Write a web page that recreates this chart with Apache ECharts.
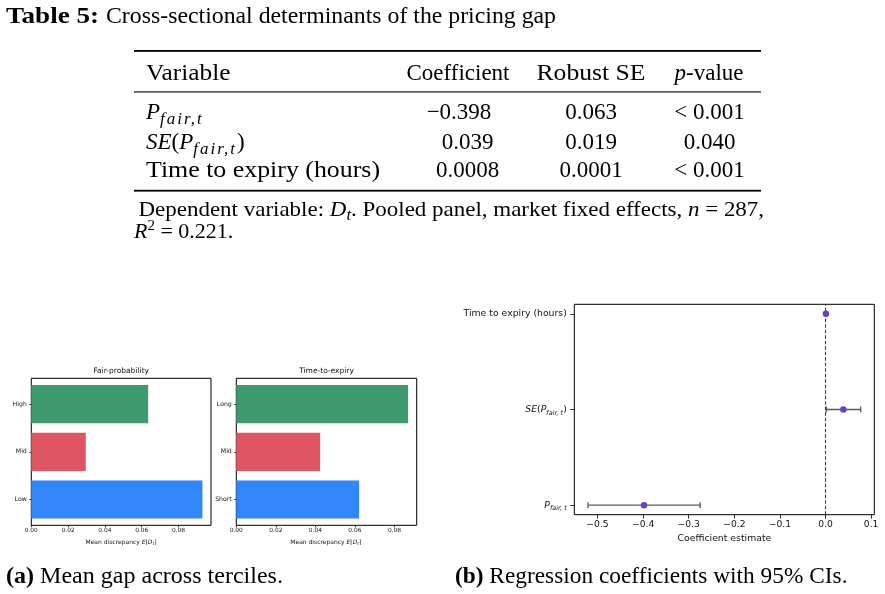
<!DOCTYPE html>
<html>
<head>
<meta charset="utf-8">
<script src="https://cdn.jsdelivr.net/npm/echarts@6/dist/echarts.min.js"></script>
<style>
html, body { margin: 0; padding: 0; background: #fff; }
#wrap { position: relative; width: 885px; height: 594px; overflow: hidden; }
#main { position: absolute; left: 0; top: 0; width: 885px; height: 594px; }
#page { position: absolute; left: 0; top: 0; pointer-events: none; }
</style>
</head>
<body>
<div id="wrap">
  <div id="main"></div>
  <svg id="page" width="885" height="594"></svg>
</div>
<script>
// panel (a): mean gap by tercile
var fairProbCats = ['Low', 'Mid', 'High'];
var fairProbGap = [0.0930, 0.0296, 0.0635];
var expiryCats = ['Short', 'Mid', 'Long'];
var expiryGap = [0.0621, 0.0424, 0.0869];
var gapTicks = [0, 0.02, 0.04, 0.06, 0.08];
var tercileColors = ['#3385fa', '#e05563', '#3c9a6e'];

// panel (b): coefficients with 95% CI
var coefNames = ['P_fair,t', 'SE(P_fair,t)', 'Time to expiry (hours)'];
var coefEst = [-0.398, 0.039, 0.0008];
var ciLow = [-0.521, 0.002, 0.0006];
var ciHigh = [-0.275, 0.077, 0.0010];
var coefTicks = [-0.5, -0.4, -0.3, -0.2, -0.1, 0, 0.1];

// table 5 cells
var tableCoef = ['\u22120.398', '0.039', '0.0008'];
var tableSE = ['0.063', '0.019', '0.0001'];
var tableP = ['&lt; 0.001', '0.040', '&lt; 0.001'];

var FONT = 'DejaVu Sans';
var INK = '#111';

// ---------- table and captions (svg text) ----------
var SUB = 'font-style="italic" font-size="17" letter-spacing="2"';
var varCells = [
  '<tspan font-style="italic">P</tspan><tspan ' + SUB + ' dy="5">fair,t</tspan>',
  '<tspan font-style="italic">SE</tspan>(<tspan font-style="italic">P</tspan><tspan ' + SUB + ' dy="5">fair,t</tspan><tspan dy="-5">)</tspan>',
  'Time to expiry (hours)'
];
var rowY = [119, 148.5, 177];
var s = [];
s.push('<g font-family="Liberation Serif" font-size="23" fill="#000">');
s.push('<text x="6" y="22.5"><tspan font-weight="bold" textLength="93" lengthAdjust="spacingAndGlyphs">Table 5:</tspan></text>');
s.push('<text x="106" y="22.5" textLength="450" lengthAdjust="spacingAndGlyphs">Cross-sectional determinants of the pricing gap</text>');
// rules
s.push('<rect x="134" y="50" width="627" height="1.8"/>');
s.push('<rect x="134" y="91.4" width="627" height="1.1"/>');
s.push('<rect x="134" y="189.8" width="627" height="1.8"/>');
// header
s.push('<text x="146" y="80" textLength="84.5" lengthAdjust="spacingAndGlyphs">Variable</text>');
s.push('<text x="458" y="80" text-anchor="middle">Coefficient</text>');
s.push('<text x="591" y="80" text-anchor="middle" textLength="109" lengthAdjust="spacingAndGlyphs">Robust SE</text>');
s.push('<text x="709" y="80" text-anchor="middle"><tspan font-style="italic">p</tspan>-value</text>');
for (var r = 0; r < 3; r++) {
  var extra = r === 2 ? ' textLength="234" lengthAdjust="spacingAndGlyphs"' : '';
  s.push('<text x="146" y="' + rowY[r] + '"' + extra + '>' + varCells[r] + '</text>');
  s.push('<text x="' + (r === 0 ? 459 : 467.5) + '" y="' + rowY[r] + '" text-anchor="middle">' + tableCoef[r] + '</text>');
  s.push('<text x="591" y="' + rowY[r] + '" text-anchor="middle">' + tableSE[r] + '</text>');
  s.push('<text x="709.5" y="' + rowY[r] + '" text-anchor="middle">' + tableP[r] + '</text>');
}
// note
s.push('<text x="138.5" y="215.5" font-size="22" textLength="625.6" lengthAdjust="spacingAndGlyphs">Dependent variable: <tspan font-style="italic">D</tspan><tspan font-style="italic" font-size="16" dy="4">t</tspan><tspan dy="-4">. Pooled panel, market fixed effects, </tspan><tspan font-style="italic">n</tspan> = 287,</text>');
s.push('<text x="134" y="238" font-size="22"><tspan font-style="italic">R</tspan><tspan font-size="15" dy="-8">2</tspan><tspan dy="8"> = 0.221.</tspan></text>');
// sub-captions
s.push('<text x="6" y="583" textLength="277" lengthAdjust="spacingAndGlyphs"><tspan font-weight="bold">(a)</tspan> Mean gap across terciles.</text>');
s.push('<text x="455" y="583" textLength="392.5" lengthAdjust="spacingAndGlyphs"><tspan font-weight="bold">(b)</tspan> Regression coefficients with 95% CIs.</text>');
s.push('</g>');
document.getElementById('page').innerHTML = s.join('');

// ---------- charts ----------
var chart = echarts.init(document.querySelector('#main'));

var BAR_H = 0.8;
var barLo = -BAR_H / 2, barHi = fairProbCats.length - 1 + BAR_H / 2;
var barPad = (barHi - barLo) * 0.05;
var coefLo = Math.min.apply(null, ciLow), coefHi = Math.max.apply(null, ciHigh);
var coefPad = (coefHi - coefLo) * 0.05;
var coefYPad = (coefNames.length - 1) * 0.05;

var tick = { color: '#000', width: 0.8 };
var rich = {
  i: { fontStyle: 'italic', fontFamily: FONT, color: INK },
  s: { fontStyle: 'italic', fontFamily: FONT, color: INK },
  n: { fontFamily: FONT, color: INK }
};
var coefMarkup = {
  'P_fair,t': '{i|P}{s|fair, t}',
  'SE(P_fair,t)': '{i|SE}{n|(}{i|P}{s|fair, t}{n|)}'
};

function sized(base, sub, pad) {
  return {
    i: Object.assign({}, rich.i, { fontSize: base }),
    n: Object.assign({}, rich.n, { fontSize: base }),
    s: Object.assign({}, rich.s, { fontSize: sub, padding: [pad, 0, 0, 0] })
  };
}

function gapXAxis(grid, maxVal) {
  return {
    gridIndex: grid, type: 'value', min: 0, max: maxVal * 1.05,
    axisLine: { show: false, onZero: false }, splitLine: { show: false },
    axisTick: { customValues: gapTicks, length: 2, lineStyle: tick },
    axisLabel: {
      customValues: gapTicks, fontSize: 5.9, fontFamily: FONT, color: INK, margin: 2,
      formatter: function (v) { return v.toFixed(2); }
    }
  };
}

function tercileYAxis(grid, cats) {
  var idx = cats.map(function (c, i) { return i; });
  return {
    gridIndex: grid, type: 'value', min: barLo - barPad, max: barHi + barPad,
    axisLine: { show: false, onZero: false }, splitLine: { show: false },
    axisTick: { customValues: idx, length: 2, lineStyle: tick },
    axisLabel: {
      customValues: idx, fontSize: 6.2, fontFamily: FONT, color: INK, margin: 4.5,
      formatter: function (v) { return cats[Math.round(v)]; }
    }
  };
}

function renderBar(params, api) {
  var y = api.value(1);
  var start = api.coord([0, y]);
  var end = api.coord([api.value(0), y]);
  var h = api.size([0, BAR_H])[1];
  return {
    type: 'rect',
    shape: { x: start[0], y: start[1] - h / 2, width: end[0] - start[0], height: h },
    style: { fill: api.visual('color') }
  };
}

function renderErr(params, api) {
  var y = api.value(0);
  var a = api.coord([api.value(1), y]);
  var b = api.coord([api.value(2), y]);
  var cap = 3;
  var st = { stroke: '#575d68', lineWidth: 1.3 };
  return {
    type: 'group',
    children: [
      { type: 'line', shape: { x1: a[0], y1: a[1], x2: b[0], y2: b[1] }, style: st },
      { type: 'line', shape: { x1: a[0], y1: a[1] - cap, x2: a[0], y2: a[1] + cap }, style: st },
      { type: 'line', shape: { x1: b[0], y1: b[1] - cap, x2: b[0], y2: b[1] + cap }, style: st }
    ]
  };
}

function barData(vals) {
  return vals.map(function (v, i) {
    return { value: [v, i], itemStyle: { color: tercileColors[i] } };
  });
}

var box = { show: true, borderColor: '#000', borderWidth: 1, backgroundColor: 'transparent' };

var option = {
  animation: false,
  backgroundColor: '#fff',
  grid: [
    Object.assign({ left: 31.3, top: 378.3, width: 179.7, height: 147 }, box),
    Object.assign({ left: 236.3, top: 378.3, width: 180.4, height: 147 }, box),
    Object.assign({ left: 574.3, top: 304.3, width: 300, height: 210.4 }, box)
  ],
  xAxis: [
    gapXAxis(0, Math.max.apply(null, fairProbGap)),
    gapXAxis(1, Math.max.apply(null, expiryGap)),
    {
      gridIndex: 2, type: 'value', min: coefLo - coefPad, max: coefHi + coefPad,
      axisLine: { show: false, onZero: false }, splitLine: { show: false },
      axisTick: { customValues: coefTicks, length: 4, lineStyle: tick },
      axisLabel: {
        customValues: coefTicks, fontSize: 9.2, fontFamily: FONT, color: INK, margin: 5,
        formatter: function (v) { return (v < -1e-9 ? '\u2212' : '') + Math.abs(v).toFixed(1); }
      }
    }
  ],
  yAxis: [
    tercileYAxis(0, fairProbCats),
    tercileYAxis(1, expiryCats),
    {
      gridIndex: 2, type: 'value', min: -coefYPad, max: coefNames.length - 1 + coefYPad,
      axisLine: { show: false, onZero: false }, splitLine: { show: false },
      axisTick: { customValues: [0, 1, 2], length: 4, lineStyle: tick },
      axisLabel: {
        customValues: [0, 1, 2], fontSize: 9.3, fontFamily: FONT, color: INK, margin: 7.5,
        rich: sized(9.3, 6.5, 7),
        formatter: function (v) {
          var name = coefNames[Math.round(v)];
          return coefMarkup[name] || name;
        }
      }
    }
  ],
  graphic: [
    { type: 'text', x: 121.2, y: 371.5, style: { text: 'Fair-probability', fontSize: 7.5, fontFamily: FONT, fill: INK, align: 'center', verticalAlign: 'middle' } },
    { type: 'text', x: 326.5, y: 371.5, style: { text: 'Time-to-expiry', fontSize: 7.5, fontFamily: FONT, fill: INK, align: 'center', verticalAlign: 'middle' } },
    { type: 'text', x: 121, y: 542, style: { text: 'Mean discrepancy {i|E}{n|[}{i|D}{s|t}{n|]}', rich: sized(6, 4.3, 4), fontSize: 6, fontFamily: FONT, fill: INK, align: 'center', verticalAlign: 'middle' } },
    { type: 'text', x: 325.8, y: 542, style: { text: 'Mean discrepancy {i|E}{n|[}{i|D}{s|t}{n|]}', rich: sized(6, 4.3, 4), fontSize: 6, fontFamily: FONT, fill: INK, align: 'center', verticalAlign: 'middle' } },
    { type: 'text', x: 724.4, y: 539, style: { text: 'Coefficient estimate', fontSize: 9.3, fontFamily: FONT, fill: INK, align: 'center', verticalAlign: 'middle' } }
  ],
  series: [
    { type: 'custom', xAxisIndex: 0, yAxisIndex: 0, renderItem: renderBar, encode: { x: 0, y: 1 }, data: barData(fairProbGap) },
    { type: 'custom', xAxisIndex: 1, yAxisIndex: 1, renderItem: renderBar, encode: { x: 0, y: 1 }, data: barData(expiryGap) },
    {
      type: 'custom', xAxisIndex: 2, yAxisIndex: 2, renderItem: renderErr, z: 2,
      encode: { x: [1, 2], y: 0 },
      data: coefEst.map(function (v, i) { return [i, ciLow[i], ciHigh[i]]; })
    },
    {
      type: 'scatter', xAxisIndex: 2, yAxisIndex: 2, z: 3, symbolSize: 6.5,
      itemStyle: { color: '#6a3dc6', opacity: 1 },
      data: coefEst.map(function (v, i) { return [v, i]; }),
      markLine: {
        silent: true, z: 1, symbol: ['none', 'none'], label: { show: false },
        lineStyle: { color: '#3a3a3a', type: [3.5, 2], width: 1.1 },
        data: [{ xAxis: 0 }]
      }
    }
  ]
};

chart.setOption(option);
</script>
</body>
</html>
